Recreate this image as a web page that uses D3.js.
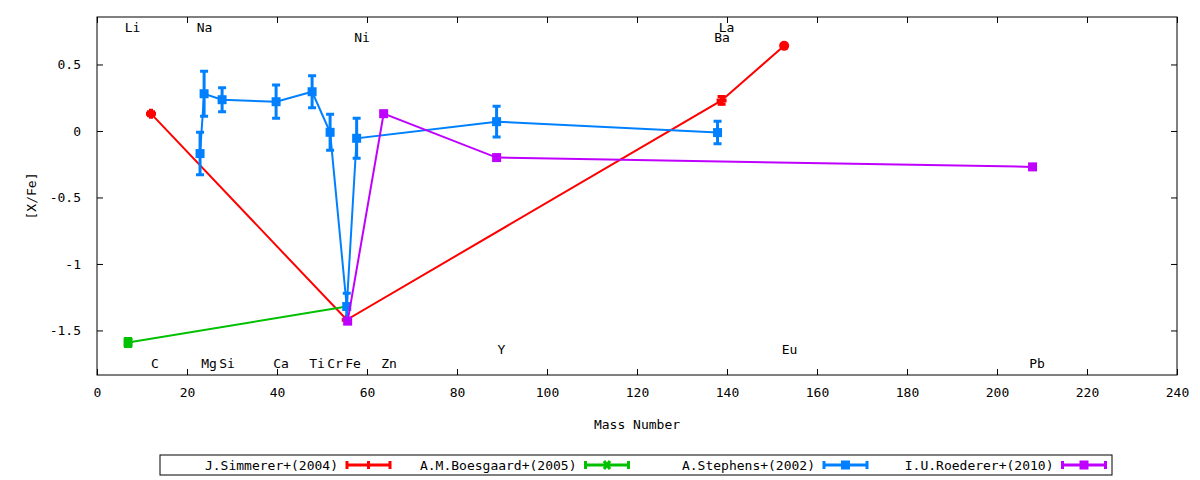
<!DOCTYPE html>
<html>
<head>
<meta charset="utf-8">
<script src="https://cdn.jsdelivr.net/npm/d3@7/dist/d3.min.js"></script>
<style>
  body { margin: 0; background: #fff; }
  text { font-family: "DejaVu Sans Mono", monospace; font-size: 13px; fill: #000; }
</style>
</head>
<body>
<div id="chart"></div>
<script>
// element labels along the top / bottom of the frame
const elementNames  = ["Li", "Na", "Ni", "Ba", "La", "C", "Mg", "Si", "Ca", "Ti", "Cr", "Fe", "Zn", "Y", "Eu", "Pb"];
const elementMass   = [7, 23, 58, 138, 139, 12, 24, 28, 40, 48, 52, 56, 64, 89, 153, 208];
const elementLabelY = [0.78, 0.78, 0.70, 0.70, 0.78, -1.75, -1.75, -1.75, -1.75, -1.75, -1.75, -1.75, -1.75, -1.64, -1.64, -1.75];

// J.Simmerer+(2004)
const simmererMass = [12, 55.5, 138.8, 152.7];
const simmererXFe  = [0.13, -1.42, 0.23, 0.64];
const simmererErr  = [0.015, 0, 0.03, 0];

// A.M.Boesgaard+(2005)
const boesgaardMass = [6.9, 55.5];
const boesgaardXFe  = [-1.59, -1.32];
const boesgaardErr  = [0.03, 0];

// A.Stephens+(2002)
const stephensMass = [22.9, 23.8, 27.8, 39.8, 47.8, 51.8, 55.5, 57.7, 88.8, 137.9];
const stephensXFe  = [-0.17, 0.28, 0.235, 0.22, 0.295, -0.01, -1.32, -0.055, 0.07, -0.012];
const stephensErr  = [0.16, 0.17, 0.09, 0.125, 0.12, 0.135, 0.1, 0.15, 0.115, 0.085];

// I.U.Roederer+(2010)
const roedererMass = [55.7, 63.7, 88.8, 207.9];
const roedererXFe  = [-1.43, 0.13, -0.20, -0.27];
const roedererErr  = [0, 0, 0, 0];

const xTicks = d3.range(0, 241, 20);
const yTicks = [-1.5, -1, -0.5, 0, 0.5];

const series = [
  {name: "J.Simmerer+(2004)", mass: simmererMass, val: simmererXFe, err: simmererErr,
   color: "#ff0000", symbols: ["plus", "plus", "plus", "circle"], legendSym: "tick"},
  {name: "A.M.Boesgaard+(2005)", mass: boesgaardMass, val: boesgaardXFe, err: boesgaardErr,
   color: "#00c000", symbols: ["square", "none"], legendSym: "cross"},
  {name: "A.Stephens+(2002)", mass: stephensMass, val: stephensXFe, err: stephensErr,
   color: "#0080ff", symbols: stephensMass.map(() => "square"), legendSym: "square"},
  {name: "I.U.Roederer+(2010)", mass: roedererMass, val: roedererXFe, err: roedererErr,
   color: "#c000ff", symbols: roedererMass.map(() => "square"), legendSym: "square"}
];

const width = 1200, height = 480;
const plotLeft = 97, plotRight = 1177, plotTop = 17, plotBottom = 375;

const svg = d3.select("#chart")
  .append("svg")
  .attr("width", width)
  .attr("height", height)
  .attr("viewBox", [0, 0, width, height]);

const x = d3.scaleLinear().domain([0, 240]).range([plotLeft, plotRight]);
const y = d3.scaleLinear().domain([-1.835, 0.857]).range([plotBottom, plotTop]);

// axes, gnuplot style: ticks inside, mirrored
const fmt = d => String(d);

svg.append("g")
  .attr("transform", `translate(0,${plotBottom})`)
  .call(d3.axisBottom(x).tickValues(xTicks).tickFormat(fmt).tickSizeInner(-6).tickSizeOuter(0).tickPadding(13))
  .call(g => g.select(".domain").remove());

svg.append("g")
  .attr("transform", `translate(0,${plotTop})`)
  .call(d3.axisTop(x).tickValues(xTicks).tickFormat("").tickSizeInner(-6).tickSizeOuter(0))
  .call(g => g.select(".domain").remove());

svg.append("g")
  .attr("transform", `translate(${plotLeft},0)`)
  .call(d3.axisLeft(y).tickValues(yTicks).tickFormat(fmt).tickSizeInner(-6).tickSizeOuter(0).tickPadding(16))
  .call(g => g.select(".domain").remove());

svg.append("g")
  .attr("transform", `translate(${plotRight},0)`)
  .call(d3.axisRight(y).tickValues(yTicks).tickFormat("").tickSizeInner(-6).tickSizeOuter(0))
  .call(g => g.select(".domain").remove());

svg.selectAll(".tick line").attr("stroke", "#000");
svg.selectAll(".tick text")
  .style("font-family", "'DejaVu Sans Mono', monospace")
  .style("font-size", "13px");

svg.append("rect")
  .attr("x", plotLeft).attr("y", plotTop)
  .attr("width", plotRight - plotLeft).attr("height", plotBottom - plotTop)
  .attr("fill", "none").attr("stroke", "#000").attr("stroke-width", 1);

// axis titles
svg.append("text")
  .attr("x", (plotLeft + plotRight) / 2)
  .attr("y", 429)
  .attr("text-anchor", "middle")
  .text("Mass Number");

svg.append("text")
  .attr("transform", `translate(36,${(plotTop + plotBottom) / 2}) rotate(-90)`)
  .attr("text-anchor", "middle")
  .text("[X/Fe]");

// element labels
svg.append("g")
  .selectAll("text")
  .data(elementNames)
  .join("text")
  .attr("x", (d, i) => x(elementMass[i]) + 4)
  .attr("y", (d, i) => y(elementLabelY[i]))
  .attr("dy", "0.35em")
  .attr("text-anchor", "middle")
  .text(d => d);

function drawSymbol(g, kind, cx, cy, color) {
  if (kind === "square") {
    g.append("rect").attr("x", cx - 4.5).attr("y", cy - 4.5)
      .attr("width", 9).attr("height", 9).attr("fill", color);
  } else if (kind === "circle") {
    g.append("circle").attr("cx", cx).attr("cy", cy).attr("r", 5).attr("fill", color);
  } else if (kind === "plus") {
    g.append("path").attr("d", `M${cx - 5},${cy}H${cx + 5}M${cx},${cy - 5}V${cy + 5}`)
      .attr("stroke", color).attr("stroke-width", 4).attr("fill", "none");
  } else if (kind === "cross") {
    g.append("path").attr("d", `M${cx - 3},${cy - 4}L${cx + 3},${cy + 4}M${cx - 3},${cy + 4}L${cx + 3},${cy - 4}`)
      .attr("stroke", color).attr("stroke-width", 3).attr("fill", "none");
  } else if (kind === "tick") {
    g.append("path").attr("d", `M${cx},${cy - 4}V${cy + 4}`)
      .attr("stroke", color).attr("stroke-width", 3).attr("fill", "none");
  }
}

function errorBar(g, cx, y0, y1, color) {
  g.append("path")
    .attr("d", `M${cx},${y0}V${y1}M${cx - 4},${y0}H${cx + 4}M${cx - 4},${y1}H${cx + 4}`)
    .attr("stroke", color).attr("stroke-width", 3).attr("fill", "none");
}

const line = d3.line().x(d => x(d[0])).y(d => y(d[1]));

series.forEach(s => {
  const pts = s.mass.map((m, i) => [m, s.val[i], s.err[i]]);
  const g = svg.append("g");
  g.append("path")
    .datum(pts)
    .attr("d", line)
    .attr("fill", "none")
    .attr("stroke", s.color)
    .attr("stroke-width", 2);
  pts.forEach((p, i) => {
    if (p[2] > 0) errorBar(g, x(p[0]), y(p[1] - p[2]), y(p[1] + p[2]), s.color);
    drawSymbol(g, s.symbols[i], x(p[0]), y(p[1]), s.color);
  });
});

// legend
const legendTop = 455, legendBottom = 475;
svg.append("rect")
  .attr("x", 160).attr("y", legendTop)
  .attr("width", 952).attr("height", legendBottom - legendTop)
  .attr("fill", "none").attr("stroke", "#000").attr("stroke-width", 1);

series.forEach((s, i) => {
  const x0 = 347 + i * 238.5, x1 = x0 + 43, cy = (legendTop + legendBottom) / 2;
  const g = svg.append("g");
  g.append("text")
    .attr("x", x0 - 9).attr("y", cy)
    .attr("dy", "0.35em")
    .attr("text-anchor", "end")
    .text(s.name);
  g.append("path")
    .attr("d", `M${x0},${cy}H${x1}M${x0},${cy - 4}V${cy + 4}M${x1},${cy - 4}V${cy + 4}`)
    .attr("stroke", s.color).attr("stroke-width", 3).attr("fill", "none");
  drawSymbol(g, s.legendSym, (x0 + x1) / 2, cy, s.color);
});
</script>
</body>
</html>
